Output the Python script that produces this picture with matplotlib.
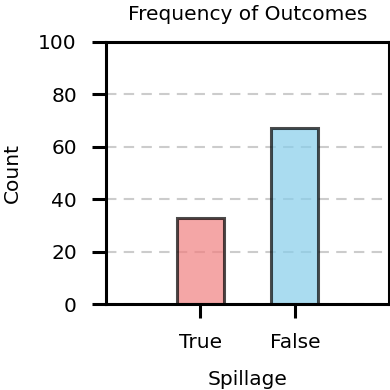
import matplotlib
matplotlib.use("Agg")
import matplotlib.pyplot as plt

categories = ["True", "False"]
counts = [33, 67]
colors = ["lightcoral", "skyblue"]

fig = plt.figure(figsize=(3.9, 3.9), dpi=100)
ax = fig.add_axes([0.272, 0.2205, 0.726, 0.672])

ax.bar(range(len(categories)), counts, width=0.5, color=colors, alpha=0.7,
       edgecolor="black", linewidth=2.2, zorder=2)
ax.set_xlim(-1, 2)
ax.set_ylim(0, 100)
ax.set_xticks(range(len(categories)))
ax.set_xticklabels(categories)
ax.set_yticks([0, 20, 40, 60, 80, 100])

ax.yaxis.grid(True, linestyle=(0, (5, 3.5)), color="#cccccc", linewidth=1.5, zorder=0)
ax.set_axisbelow(True)

for s in ax.spines.values():
    s.set_linewidth(2.2)
ax.tick_params(axis="both", length=10, width=2.2, labelsize=14.5, pad=11)

ax.set_title("Frequency of Outcomes", fontsize=14.5, pad=16)
ax.set_xlabel("Spillage", fontsize=14.5, labelpad=13)
ax.set_ylabel("Count", fontsize=14.5, labelpad=11.5)

fig.savefig("out.png", dpi=100)
